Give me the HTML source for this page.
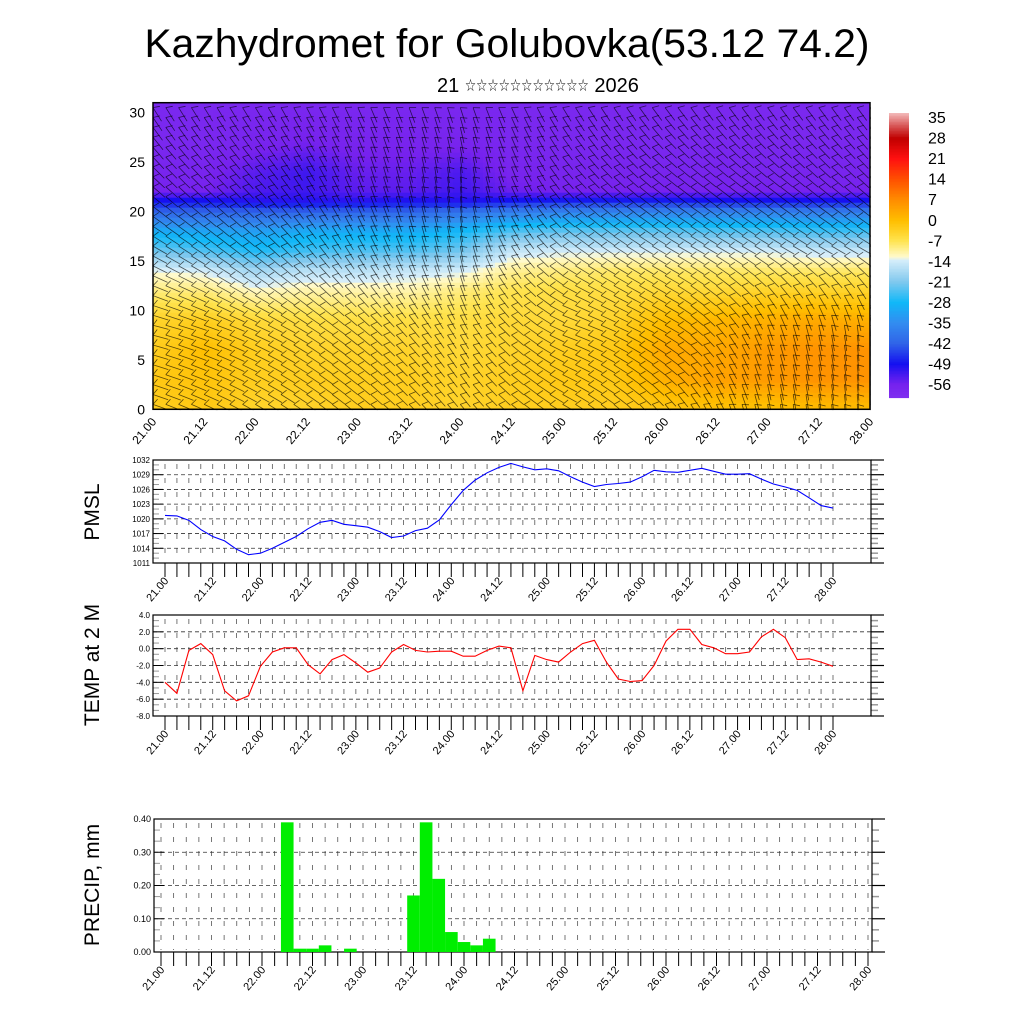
<!DOCTYPE html>
<html><head><meta charset="utf-8"><style>
html,body{margin:0;padding:0;background:#fff;}
svg{display:block;font-family:"Liberation Sans",sans-serif;}
</style></head><body>
<svg id="root" width="1024" height="1024" viewBox="0 0 1024 1024" xmlns="http://www.w3.org/2000/svg">
<text x="507" y="57" font-size="40" text-anchor="middle" textLength="725" lengthAdjust="spacingAndGlyphs">Kazhydromet for Golubovka(53.12 74.2)</text>
<text x="437" y="92" font-size="20">21 <tspan font-size="17" textLength="124" lengthAdjust="spacingAndGlyphs" dy="-1">☆☆☆☆☆☆☆☆☆☆☆</tspan><tspan dy="1"> 2026</tspan></text>
<g id="topPanel"></g>
<g id="cbar"></g>
<g id="pmsl"></g>
<g id="temp"></g>
<g id="precip"></g>
</svg>
<script>
// ---- data ----
const timeLabels = ["21.00","21.12","22.00","22.12","23.00","23.12","24.00","24.12","25.00","25.12","26.00","26.12","27.00","27.12","28.00"];
const pmslValues = [1020.7,1020.6,1019.7,1017.8,1016.4,1015.5,1013.8,1012.7,1013.0,1014.0,1015.2,1016.4,1018.0,1019.3,1019.7,1018.9,1018.6,1018.3,1017.4,1016.2,1016.5,1017.6,1018.1,1019.8,1022.9,1025.8,1027.9,1029.4,1030.5,1031.3,1030.6,1030.0,1030.2,1029.8,1028.6,1027.5,1026.6,1027.0,1027.2,1027.5,1028.6,1029.9,1029.6,1029.5,1029.9,1030.3,1029.7,1029.1,1029.1,1029.2,1028.1,1027.1,1026.5,1025.8,1024.3,1022.7,1022.2];
const pmslTicks = [1011,1014,1017,1020,1023,1026,1029,1032];
const tempValues = [-4.0,-5.3,-0.2,0.6,-0.7,-5.0,-6.2,-5.6,-2.1,-0.4,0.1,0.1,-1.9,-3.0,-1.3,-0.7,-1.7,-2.8,-2.3,-0.4,0.5,-0.2,-0.4,-0.3,-0.3,-0.9,-0.9,-0.2,0.3,0.1,-5.0,-0.8,-1.3,-1.6,-0.4,0.6,1.0,-1.6,-3.6,-3.9,-3.8,-2.0,0.9,2.3,2.3,0.5,0.1,-0.6,-0.6,-0.4,1.4,2.3,1.3,-1.3,-1.2,-1.6,-2.1];
const tempTicks = [-8,-6,-4,-2,0,2,4];
const precipValues = [0,0,0,0,0,0,0,0,0,0,0.39,0.01,0.01,0.02,0,0.01,0,0,0,0,0.17,0.39,0.22,0.06,0.03,0.02,0.04,0,0,0,0,0,0,0,0,0,0,0,0,0,0,0,0,0,0,0,0,0,0,0,0,0,0,0,0,0,0];
const precipTicks = [0,0.1,0.2,0.3,0.4];
const fieldTimes = [0,0.5,1,1.5,2,2.5,3,3.5,4,4.5,5,5.5,6,6.5,7];
const fieldLevels = [0,3,6,9,12,14,16,18,20,21,22,24,27,31];
const fieldTemps = [
 [-3,-2,-3,-4,-9,-13,-22,-30,-42,-48,-56,-57,-58,-58],
 [-2,-1,0,-3,-9,-14,-24,-31,-42,-48,-56,-57,-58,-58],
 [-4,-3,-3,-5,-12,-18,-27,-32,-42,-50,-53,-54,-57,-58],
 [-4,-3,-4,-6,-11,-16,-25,-30,-42,-50,-52,-52,-56,-58],
 [-3,-3,-4,-6,-11,-16,-24,-30,-42,-50,-54,-55,-57,-58],
 [-3,-3,-4,-6,-11,-15,-24,-30,-42,-49,-54,-55,-57,-58],
 [-4,-4,-5,-6,-9,-14,-22,-28,-40,-50,-52,-53,-57,-58],
 [-3,-3,-4,-5,-7,-10,-15,-24,-38,-48,-55,-57,-58,-58],
 [-3,-2,-3,-5,-6,-9,-14,-23,-37,-47,-56,-57,-58,-58],
 [-3,-2,-2,-4,-6,-8,-14,-23,-37,-47,-56,-57,-58,-58],
 [-2,2,3,0,-5,-8,-14,-23,-37,-47,-56,-57,-58,-58],
 [-1,4,3,1,-5,-8,-14,-24,-37,-48,-56,-57,-58,-58],
 [-1,5,5,2,-4,-8,-14,-24,-37,-48,-56,-57,-58,-58],
 [0,6,6,3,-4,-8,-15,-25,-38,-48,-56,-57,-58,-58],
 [0,6,6,2,-4,-8,-15,-25,-38,-48,-56,-57,-58,-58]];
const windLevels = [0,8,16,24,31];
const windDays = [0,1,2,3,4,5,6,7];
const windAngles = [
 [20,30,40,50,30,50,80,85],
 [15,25,40,60,20,30,70,85],
 [30,40,60,80,35,30,30,30],
 [45,50,70,85,50,40,40,45],
 [60,60,65,70,60,55,55,55]];
const cbarLabels = [35,28,21,14,7,0,-7,-14,-21,-28,-35,-42,-49,-56];
const cStops = [[-61,[128,48,240]],[-56,[118,34,238]],[-49,[20,16,240]],[-42,[48,100,232]],[-35,[50,140,240]],[-28,[16,184,248]],[-21,[128,200,238]],[-13.5,[215,238,250]],[-12.5,[255,250,205]],[-7,[255,228,80]],[-3,[255,206,30]],[0,[255,190,0]],[7,[255,140,0]],[14,[255,80,0]],[21,[255,16,16]],[28,[192,0,0]],[32,[214,80,80]],[37,[246,196,196]]];

const NS="http://www.w3.org/2000/svg";
function mk(p,tag,a){const e=document.createElementNS(NS,tag);for(const k in a)e.setAttribute(k,a[k]);p.appendChild(e);return e;}
function col(v){if(v<=cStops[0][0])return cStops[0][1];for(let i=1;i<cStops.length;i++){if(v<=cStops[i][0]){const a=cStops[i-1],b=cStops[i];const f=(v-a[0])/(b[0]-a[0]);return a[1].map((c,k)=>Math.round(c+(b[1][k]-c)*f));}}return cStops[cStops.length-1][1];}
function rgb(c){return "rgb("+c.join(",")+")";}
function idx(arr,v){let i=0;while(i<arr.length-2&&v>arr[i+1])i++;const f=Math.max(0,Math.min(1,(v-arr[i])/(arr[i+1]-arr[i])));return [i,f];}

// ---- top panel ----
const topG=document.getElementById('topPanel');
const TX0=153,TX1=870,TY0=102.7,TY1=409.3,LMAX=31;
const xT=t=>TX0+t/7*(TX1-TX0), yT=l=>TY1-l/LMAX*(TY1-TY0);
const fg=mk(topG,'g',{});


const CW=6,CH=5;
for(let px=TX0;px<TX1;px+=CW){for(let py=TY0;py<TY1;py+=CH){
 const t=(px+CW/2-TX0)/(TX1-TX0)*7,l=(TY1-(py+CH/2))/(TY1-TY0)*LMAX;
 const [i,fi]=idx(fieldTimes,t),[j,fj]=idx(fieldLevels,l);
 const v=(fieldTemps[i][j]*(1-fi)+fieldTemps[i+1][j]*fi)*(1-fj)+(fieldTemps[i][j+1]*(1-fi)+fieldTemps[i+1][j+1]*fi)*fj;
 const r=mk(fg,'rect',{x:px,y:py,width:Math.min(CW,TX1-px)+0.5,height:Math.min(CH,TY1-py)+0.5,fill:rgb(col(v))});
 
 
}}
const bg=mk(topG,'g',{stroke:'#000','stroke-width':0.8,'stroke-opacity':0.65});


for(let k=0;k<=56;k++){for(let l=0;l<=30;l++){
 const t=k/8,[i,fi]=idx(windDays,t),[j,fj]=idx(windLevels,l);
 const a=(windAngles[j][i]*(1-fi)+windAngles[j][i+1]*fi)*(1-fj)+(windAngles[j+1][i]*(1-fi)+windAngles[j+1][i+1]*fi)*fj;
 const rad=a*Math.PI/180,x=xT(t),y=yT(l+0.5),L=16;
 const x2=x+Math.cos(rad)*L,y2=y+Math.sin(rad)*L;
 mk(bg,'line',{x1:x.toFixed(1),y1:y.toFixed(1),x2:x2.toFixed(1),y2:y2.toFixed(1)});
 const fr=rad-Math.PI/2.6;
 mk(bg,'line',{x1:x.toFixed(1),y1:y.toFixed(1),x2:(x+Math.cos(fr)*7).toFixed(1),y2:(y+Math.sin(fr)*7).toFixed(1)});
}}
mk(topG,'rect',{x:0,y:TY1+0.8,width:1024,height:20,fill:'#fff'});
mk(topG,'rect',{x:TX1+0.8,y:95,width:15,height:330,fill:'#fff'});
mk(topG,'rect',{x:TX0,y:TY0,width:TX1-TX0,height:TY1-TY0,fill:'none',stroke:'#000','stroke-width':1.5});
for(let v=0;v<=30;v+=5){const t=mk(topG,'text',{x:145,y:yT(v)+5,'font-size':14,'text-anchor':'end'});t.textContent=v;
 }
timeLabels.forEach((s,i)=>{const x=xT(i*0.5);const t=mk(topG,'text',{x:x+4,y:422,'font-size':12,'text-anchor':'end',transform:`rotate(-50 ${x+4} 422)`});t.textContent=s;
 });

// ---- colorbar ----
const cb=document.getElementById('cbar');
const CB0=113,CB1=398,cbV=y=>36.4-(y-CB0)/(CB1-CB0)*(36.4+60.8);
for(let y=CB0;y<CB1;y+=1.5){const r=mk(cb,'rect',{x:889,y:y,width:20,height:1.6,fill:rgb(col(cbV(y)))});
 }
cbarLabels.forEach((v,i)=>{const t=mk(cb,'text',{x:928,y:123+i*20.55,'font-size':16});t.textContent=v;
 });

// ---- line / bar panels ----
function panel(g,o){
 const {x0,x1,y0,y1,dx0,dx1,vmin,vmax,ticks,fmt,title,tcy}=o;
 const X=i=>dx0+i/56*(dx1-dx0),Y=v=>y1-(v-vmin)/(vmax-vmin)*(y1-y0);
 const gr=mk(g,'g',{stroke:'#555','stroke-width':0.8});
 for(let i=0;i<=56;i++){mk(gr,'line',{x1:X(i),y1:y0+4,x2:X(i),y2:y1-2,'stroke-dasharray':'5,9'});}
 ticks.forEach(v=>{if(v>vmin&&v<vmax)mk(gr,'line',{x1:x0,y1:Y(v),x2:x1,y2:Y(v),'stroke-dasharray':'4,3',stroke:'#333'});});
 const tk=mk(g,'g',{stroke:'#000','stroke-width':1});
 for(let i=0;i<=56;i++)mk(tk,'line',{x1:X(i),y1:y1,x2:X(i),y2:y1+14});
 const st=(ticks[1]-ticks[0])/3;
 for(let v=vmin;v<=vmax+1e-9;v+=st){const maj=ticks.some(t=>Math.abs(t-v)<1e-6);
  mk(tk,'line',{x1:x1,y1:Y(v),x2:x1+(maj?13:7),y2:Y(v),stroke:maj?'#000':'#999','stroke-width':maj?1.2:1.5});
  mk(tk,'line',{x1:x0,y1:Y(v),x2:x0+(maj?10:6),y2:Y(v),stroke:maj?'#000':'#999'});}
 mk(g,'rect',{x:x0,y:y0,width:x1-x0,height:y1-y0,fill:'none',stroke:'#000','stroke-width':1.2});
 ticks.forEach(v=>{const t=mk(g,'text',{x:x0-3,y:Y(v)+3,'font-size':o.tfs,'text-anchor':'end'});t.textContent=fmt(v);
  });
 timeLabels.forEach((s,i)=>{const x=X(i*4)+4,y=y1+18;const t=mk(g,'text',{x:x,y:y,'font-size':11,'text-anchor':'end',transform:`rotate(-50 ${x} ${y})`});t.textContent=s;
  });
 const tt=mk(g,'text',{x:99,y:tcy,'font-size':21,'text-anchor':'middle',transform:`rotate(-90 99 ${tcy})`});tt.textContent=title;
 
 return {X,Y};
}
const pm=panel(document.getElementById('pmsl'),{x0:153,x1:871,y0:460,y1:563,dx0:165,dx1:833,vmin:1011,vmax:1032,ticks:pmslTicks,fmt:v=>v,title:'PMSL',tcy:512,tfs:8});
const pl=mk(document.getElementById('pmsl'),'polyline',{fill:'none',stroke:'#0000ff','stroke-width':1.1,points:pmslValues.map((v,i)=>pm.X(i).toFixed(1)+','+pm.Y(v).toFixed(1)).join(' ')});

const tp=panel(document.getElementById('temp'),{x0:153,x1:871,y0:615,y1:716,dx0:165,dx1:833,vmin:-8,vmax:4,ticks:tempTicks,fmt:v=>v.toFixed(1),title:'TEMP at 2 M',tcy:665,tfs:8});
const tl=mk(document.getElementById('temp'),'polyline',{fill:'none',stroke:'#ff0000','stroke-width':1.1,points:tempValues.map((v,i)=>tp.X(i).toFixed(1)+','+tp.Y(v).toFixed(1)).join(' ')});

const prg=document.getElementById('precip');
const pp=panel(prg,{x0:154,x1:872,y0:819,y1:952,dx0:161,dx1:868,vmin:0,vmax:0.4,ticks:precipTicks,fmt:v=>v.toFixed(2),title:'PRECIP, mm',tcy:885,tfs:9});
const bw=(868-161)/56;
precipValues.forEach((v,i)=>{if(v<=0)return;const b=mk(prg,'rect',{x:pp.X(i)-bw/2,y:pp.Y(v),width:bw,height:pp.Y(0)-pp.Y(v),fill:'#00ee00'});
 });
</script>
</body></html>
